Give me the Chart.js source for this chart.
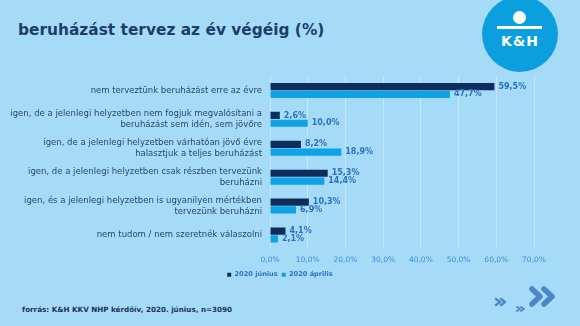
<!DOCTYPE html>
<html lang="hu">
<head>
<meta charset="utf-8">
<script src="https://cdn.jsdelivr.net/npm/chart.js@4.4.1/dist/chart.umd.min.js"></script>
<style>
  html, body { margin: 0; padding: 0; }
  body {
    width: 580px; height: 326px; overflow: hidden; position: relative;
    background: #a6dbf7; font-family: "DejaVu Sans", Verdana, sans-serif;
  }
  .title {
    position: absolute; left: 18px; top: 21px; margin: 0;
    font-size: 15.4px; font-weight: bold; color: #1b3d6a;
  }
  .logo {
    position: absolute; left: 482px; top: -4px; width: 76px; height: 76px;
    border-radius: 50%; background: #0c9fe0;
  }
  .logo .ball {
    position: absolute; left: 31px; top: 15px; width: 13px; height: 13px;
    border-radius: 50%; background: #fff;
  }
  .logo .bar {
    position: absolute; left: 15px; top: 30px; width: 45px; height: 3px; background: #fff;
  }
  .logo .mark {
    position: absolute; left: 0; width: 76px; top: 37px; text-align: center;
    color: #fff; font-weight: bold; font-size: 14px; letter-spacing: 1px;
  }
  .wrap { position: absolute; left: 0; top: 74px; width: 580px; height: 216px; }
  .footer {
    position: absolute; left: 22px; top: 305px;
    font-size: 7.2px; font-weight: bold; color: #1a3556;
  }
  .arrows { position: absolute; left: 490px; top: 282px; }
</style>
</head>
<body>
<h1 class="title">beruházást tervez az év végéig (%)</h1>
<div class="logo"><div class="ball"></div><div class="bar"></div><div class="mark">K&amp;H</div></div>
<div class="wrap"><canvas id="chart" width="580" height="216"></canvas></div>
<div class="footer">forrás: K&amp;H KKV NHP kérdőív, 2020. június, n=3090</div>
<svg class="arrows" width="70" height="34" viewBox="0 0 70 34">
  <g fill="none" stroke="#4a86c8" stroke-linecap="round" stroke-linejoin="round">
    <g stroke-width="5.5">
      <polyline points="42,7 50,14.5 42,22"/>
      <polyline points="54,7 62,14.5 54,22"/>
    </g>
    <g stroke-width="2.4">
      <polyline points="6,17 10,20 6,23"/>
      <polyline points="11,17 15,20 11,23"/>
    </g>
    <g stroke-width="1.8">
      <polyline points="27,25 30,27 27,29"/>
      <polyline points="31,25 34,27 31,29"/>
    </g>
  </g>
</svg>
<script>
  const categories = [
    ["nem terveztünk beruházást erre az évre"],
    ["igen, de a jelenlegi helyzetben nem fogjuk megvalósítani a", "beruházást sem idén, sem jövőre"],
    ["igen, de a jelenlegi helyzetben várhatóan jövő évre", "halasztjuk a teljes beruházást"],
    ["igen, de a jelenlegi helyzetben csak részben tervezünk", "beruházni"],
    ["igen, és a jelenlegi helyzetben is ugyanilyen mértékben", "tervezünk beruházni"],
    ["nem tudom / nem szeretnék válaszolni"]
  ];
  const june2020 = [59.5, 2.6, 8.2, 15.3, 10.3, 4.1];
  const april2020 = [47.7, 10.0, 18.9, 14.4, 6.9, 2.1];
  const seriesNames = ["2020 június", "2020 április"];
  const axisMax = 70;
  const axisStep = 10;

  const pct = (v) => v.toFixed(1).replace(".", ",") + "%";
  const FONT = "'DejaVu Sans', Verdana, sans-serif";

  // value labels at the end of each bar
  const barValues = {
    id: "barValues",
    afterDatasetsDraw(chart) {
      const ctx = chart.ctx;
      ctx.save();
      ctx.font = "bold 8px " + FONT;
      ctx.fillStyle = "#2a70c4";
      ctx.textBaseline = "middle";
      ctx.textAlign = "left";
      chart.data.datasets.forEach((ds, i) => {
        chart.getDatasetMeta(i).data.forEach((bar, j) => {
          ctx.fillText(pct(ds.data[j]), bar.x + 4, bar.y);
        });
      });
      ctx.restore();
    }
  };

  // nudge the legend a bit to the right, under the bars
  const legendShift = {
    id: "legendShift",
    afterLayout(chart) {
      if (chart.legend) {
        chart.legend.left += 13;
        chart.legend.right += 13;
      }
    }
  };

  new Chart(document.getElementById("chart"), {
    type: "bar",
    data: {
      labels: categories,
      datasets: [
        {
          label: seriesNames[0],
          data: june2020,
          backgroundColor: "#0f2d5c",
          barPercentage: 0.92,
          categoryPercentage: 0.54
        },
        {
          label: seriesNames[1],
          data: april2020,
          backgroundColor: "#0ea3e6",
          barPercentage: 0.92,
          categoryPercentage: 0.54
        }
      ]
    },
    options: {
      indexAxis: "y",
      responsive: false,
      animation: false,
      layout: { padding: { top: 2, right: 46, bottom: 2, left: 0 } },
      plugins: {
        tooltip: { enabled: false },
        legend: {
          position: "bottom",
          labels: {
            boxWidth: 4,
            boxHeight: 4,
            padding: 4,
            color: "#2a72c6",
            font: { family: FONT, size: 6.6, weight: "bold" }
          }
        }
      },
      scales: {
        x: {
          min: 0,
          max: axisMax,
          afterFit(scale) { scale.height = 18; },
          ticks: {
            stepSize: axisStep,
            color: "#3a8fd6",
            padding: 6,
            font: { family: FONT, size: 7.5 },
            callback: (v) => pct(v)
          },
          grid: { color: "rgba(255,255,255,0.35)", drawTicks: false },
          border: { display: false }
        },
        y: {
          afterFit(scale) {
            scale.width = 270;
            scale.paddingTop = 0;
            scale.paddingBottom = 0;
          },
          ticks: {
            color: "#28476b",
            padding: 8,
            font: { family: FONT, size: 8.5, lineHeight: 1.3 }
          },
          grid: { display: false, drawTicks: false },
          border: { display: false }
        }
      }
    },
    plugins: [barValues, legendShift]
  });
</script>
</body>
</html>
